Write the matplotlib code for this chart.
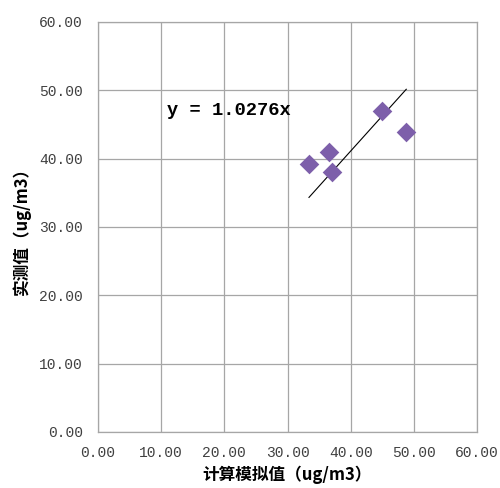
import matplotlib
matplotlib.use('Agg')
import matplotlib.pyplot as plt
import numpy as np

plt.rcParams['font.family'] = ['Noto Sans CJK SC', 'DejaVu Sans']

# measured vs simulated values
sim_x = [33.4, 36.6, 37.0, 44.9, 48.8]
obs_y = [39.2, 40.9, 38.0, 46.9, 43.9]
slope = 1.0276
ticks = [0, 10, 20, 30, 40, 50, 60]
tick_labels = ['%.2f' % t for t in ticks]

fig = plt.figure(figsize=(5, 4.88), dpi=100)
ax = fig.add_axes([0.196, 0.115, 0.758, 0.84])

ax.scatter(sim_x, obs_y, marker='D', s=100, color='#7D5FAA', zorder=3, linewidths=0)

# trend line through the origin, drawn over the data range
lx = np.array([min(sim_x), max(sim_x)])
ax.plot(lx, slope * lx, color='black', lw=0.8, zorder=2)

ax.text(10.9, 47.1, 'y = %.4fx' % slope, fontsize=13.5, fontweight='bold',
        family='Liberation Mono', va='center', ha='left')

ax.set_xlim(0, 60)
ax.set_ylim(0, 60)
ax.set_xticks(ticks)
ax.set_yticks(ticks)
ax.set_xticklabels(tick_labels, family='Liberation Mono', fontsize=10.5, color='#404040')
ax.set_yticklabels(tick_labels, family='Liberation Mono', fontsize=10.5, color='#404040')
ax.tick_params(axis='x', length=0, pad=10)
ax.tick_params(axis='y', length=0, pad=11)
ax.grid(True, color='#A6A6A6', lw=0.9)
ax.set_axisbelow(True)
for s in ax.spines.values():
    s.set_color('#A6A6A6')
    s.set_linewidth(0.9)

ax.set_xlabel('计算模拟值（ug/m3）', fontsize=12, fontweight='bold', labelpad=4)
ax.set_ylabel('实测值（ug/m3）', fontsize=12, fontweight='bold', labelpad=6)

fig.savefig('out.png', dpi=100)
